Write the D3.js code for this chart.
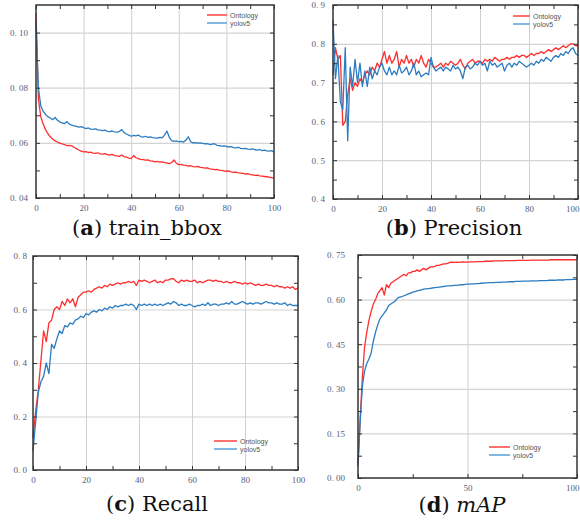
<!DOCTYPE html>
<html>
<head>
<meta charset="utf-8">
<script src="https://cdn.jsdelivr.net/npm/d3@7"></script>
<style>
  body { margin: 0; background: #fff; }
  svg { display: block; }
  .tick text { font-family: "Liberation Serif", serif; font-size: 9px; fill: #55607a; }
  .caption { font-family: "DejaVu Serif", serif; font-size: 21px; fill: #111; }
  .legend text { font-family: "Liberation Sans", sans-serif; font-size: 7px; fill: #555; }
</style>
</head>
<body>
<div id="chart"></div>
<script>
// epochs shared by all four panels
var epochs = d3.range(0, 101);

// (a) train_bbox
var bboxOntology = [.107,.076,.0695,.0668,.0648,.0633,.0622,.0614,.0607,.0603,.0599,.0596,.0594,.0590,.0591,.0589,.0584,.0579,.0574,.0570,
  .0567,.0568,.0565,.0566,.0563,.0562,.0564,.0560,.0559,.0561,.0557,.0556,.0558,.0554,.0553,.0551,.0556,.0550,.0548,.0545,
  .0543,.0554,.0546,.0543,.0540,.0539,.0537,.0538,.0535,.0534,.0531,.0533,.0530,.0531,.0528,.0527,.0525,.0528,.0538,.0526,
  .0521,.0522,.0519,.0518,.0516,.0517,.0514,.0513,.0515,.0511,.0510,.0508,.0509,.0506,.0505,.0503,.0504,.0501,.0500,.0498,
  .0497,.0498,.0495,.0493,.0494,.0491,.0490,.0489,.0487,.0488,.0485,.0484,.0482,.0483,.0480,.0479,.0478,.0477,.0476,.0474,.0472];
var bboxYolo = [.104,.080,.0735,.0715,.0703,.0695,.0690,.0684,.0692,.0682,.0676,.0672,.0670,.0677,.0668,.0664,.0662,.0660,.0657,.0659,
  .0655,.0652,.0654,.0650,.0649,.0651,.0647,.0646,.0644,.0646,.0642,.0641,.0643,.0640,.0639,.0641,.0648,.0637,.0632,.0628,
  .0624,.0627,.0625,.0628,.0623,.0621,.0624,.0620,.0622,.0619,.0618,.0617,.0620,.0618,.0628,.0643,.0620,.0608,.0605,.0607,
  .0604,.0605,.0603,.0610,.0622,.0604,.0600,.0601,.0599,.0600,.0598,.0596,.0597,.0594,.0595,.0597,.0591,.0590,.0588,.0589,
  .0587,.0585,.0586,.0583,.0582,.0584,.0580,.0579,.0580,.0577,.0576,.0578,.0575,.0574,.0576,.0572,.0574,.0571,.0570,.0572,.0566];

// (b) Precision
var precOntology = [.72,.79,.76,.77,.59,.60,.67,.71,.68,.70,.69,.71,.70,.72,.73,.72,.74,.73,.75,.74,
  .76,.78,.75,.77,.75,.76,.78,.74,.76,.75,.77,.75,.76,.74,.76,.75,.77,.75,.74,.76,
  .75,.74,.74,.745,.75,.74,.75,.745,.755,.75,.745,.75,.76,.745,.735,.75,.755,.76,.75,.755,
  .755,.75,.76,.755,.76,.755,.765,.76,.755,.76,.76,.765,.76,.765,.765,.77,.765,.77,.77,.765,
  .77,.775,.77,.775,.775,.78,.775,.78,.785,.78,.785,.79,.785,.79,.795,.79,.795,.80,.80,.795,.795];
var precYolo = [.86,.71,.77,.65,.63,.79,.55,.74,.69,.76,.70,.75,.69,.73,.69,.74,.71,.73,.72,.74,
  .75,.73,.72,.74,.72,.73,.72,.745,.725,.73,.74,.72,.73,.75,.72,.73,.715,.72,.725,.72,
  .765,.74,.73,.735,.74,.73,.74,.735,.73,.745,.735,.74,.73,.71,.74,.745,.735,.74,.75,.745,
  .755,.745,.75,.73,.755,.745,.75,.74,.745,.75,.73,.745,.75,.74,.75,.745,.755,.75,.745,.74,
  .745,.75,.745,.755,.75,.76,.755,.765,.76,.755,.765,.77,.765,.775,.77,.78,.775,.785,.79,.775,.77];

// (c) Recall
var recOntology = [.12,.22,.30,.41,.52,.48,.55,.56,.60,.61,.60,.63,.615,.64,.625,.64,.61,.645,.655,.665,
  .665,.67,.665,.675,.68,.685,.68,.69,.685,.695,.69,.695,.70,.695,.70,.70,.705,.70,.705,.69,
  .71,.705,.71,.705,.70,.705,.71,.70,.705,.70,.71,.71,.715,.715,.705,.70,.71,.705,.71,.705,
  .705,.71,.70,.705,.70,.705,.71,.71,.705,.71,.705,.705,.70,.705,.70,.70,.705,.70,.70,.695,
  .70,.695,.70,.695,.69,.695,.69,.69,.695,.69,.69,.685,.69,.685,.685,.68,.685,.68,.685,.675,.68];
var recYolo = [.07,.18,.29,.33,.35,.40,.36,.47,.455,.49,.52,.51,.54,.535,.55,.545,.56,.565,.575,.57,
  .585,.58,.59,.595,.59,.60,.595,.605,.60,.61,.605,.615,.61,.615,.615,.62,.615,.62,.615,.60,
  .62,.615,.62,.615,.62,.615,.62,.615,.62,.615,.62,.625,.62,.63,.625,.615,.62,.615,.615,.62,
  .615,.61,.615,.615,.62,.615,.625,.615,.62,.62,.615,.62,.62,.625,.62,.63,.62,.62,.625,.63,
  .625,.62,.625,.62,.625,.625,.62,.625,.63,.625,.625,.62,.625,.62,.62,.625,.615,.62,.615,.615,.615];

// (d) mAP
var mapOntology = [.04,.20,.34,.44,.49,.53,.56,.585,.60,.62,.63,.64,.615,.65,.64,.655,.66,.665,.67,.675,
  .68,.685,.68,.69,.69,.695,.695,.70,.695,.70,.705,.70,.705,.71,.71,.712,.715,.715,.718,.72,
  .72,.722,.725,.726,.725,.726,.725,.726,.727,.726,.726,.727,.727,.727,.728,.728,.728,.728,.729,.729,
  .729,.729,.73,.73,.73,.73,.73,.731,.731,.731,.731,.731,.731,.732,.732,.732,.732,.732,.732,.733,
  .733,.733,.733,.733,.733,.733,.733,.733,.734,.734,.734,.734,.734,.734,.734,.734,.734,.734,.734,.734,.734];
var mapYolo = [.05,.19,.31,.36,.385,.40,.42,.46,.49,.515,.535,.545,.555,.565,.58,.585,.59,.595,.605,.608,
  .61,.613,.616,.619,.622,.625,.627,.629,.631,.633,.635,.636,.637,.638,.639,.64,.641,.642,.643,.644,
  .645,.646,.646,.647,.648,.648,.649,.65,.65,.651,.652,.652,.653,.653,.654,.654,.655,.655,.656,.656,
  .657,.657,.657,.658,.658,.658,.659,.659,.659,.66,.66,.66,.661,.661,.661,.662,.662,.662,.662,.663,
  .663,.663,.663,.664,.664,.664,.664,.665,.665,.665,.665,.666,.666,.666,.666,.667,.667,.667,.668,.668,.668];

var seriesNames = ["Ontology", "yolov5"];
var colors = ["#ff2e2e", "#2c7cc0"];
var legendColors = ["#ff7070", "#80b8e2"];

var svg = d3.select("#chart").append("svg")
    .attr("width", 580)
    .attr("height", 521);

function drawPanel(p) {
    var x = d3.scaleLinear().domain(p.xDomain).range([p.left, p.right]);
    var y = d3.scaleLinear().domain(p.yDomain).range([p.bottom, p.top]);
    var g = svg.append("g");
    var h = p.bottom - p.top, w = p.right - p.left;

    // grid
    g.append("g").attr("transform", "translate(0," + p.bottom + ")")
        .call(d3.axisBottom(x).tickValues(p.xGrid).tickSize(-h).tickFormat(""))
        .call(function(s){ s.select(".domain").remove(); s.selectAll("line").attr("stroke", "#cfcfcf"); });
    g.append("g").attr("transform", "translate(" + p.left + ",0)")
        .call(d3.axisLeft(y).tickValues(p.yGrid).tickSize(-w).tickFormat(""))
        .call(function(s){ s.select(".domain").remove(); s.selectAll("line").attr("stroke", "#d4d4d4").attr("stroke-width", 1.2); });

    // lines
    var line = d3.line().x(function(d, i){ return x(epochs[i]); }).y(function(d){ return y(d); });
    p.series.forEach(function(s, i){
        g.append("path").datum(s)
            .attr("fill", "none")
            .attr("stroke", colors[i])
            .attr("stroke-width", 1.3)
            .attr("stroke-linejoin", "round")
            .attr("d", line);
    });

    // inward ticks on all sides (major + minor)
    var xTicks = p.xTicks.concat(p.xMinor), yTicks = p.yTicks.concat(p.yMinor);
    function tickStyle(s){ s.select(".domain").remove(); s.selectAll("line").attr("stroke", "#333"); }
    g.append("g").attr("transform", "translate(0," + p.bottom + ")")
        .call(d3.axisBottom(x).tickValues(xTicks).tickSize(-4).tickFormat("")).call(tickStyle);
    g.append("g").attr("transform", "translate(0," + p.top + ")")
        .call(d3.axisTop(x).tickValues(xTicks).tickSize(-4).tickFormat("")).call(tickStyle);
    g.append("g").attr("transform", "translate(" + p.left + ",0)")
        .call(d3.axisLeft(y).tickValues(yTicks).tickSize(-4).tickFormat("")).call(tickStyle);
    g.append("g").attr("transform", "translate(" + p.right + ",0)")
        .call(d3.axisRight(y).tickValues(yTicks).tickSize(-4).tickFormat("")).call(tickStyle);

    // labels
    var xl = g.append("g").attr("transform", "translate(0," + p.bottom + ")")
        .call(d3.axisBottom(x).tickValues(p.xTicks).tickSize(0).tickPadding(7).tickFormat(d3.format("d")))
        .call(function(s){ s.select(".domain").remove(); });
    if (p.right > 570) {
        // keep the last label inside the window
        xl.selectAll(".tick").filter(function(d){ return d === p.xDomain[1]; })
            .select("text").attr("text-anchor", "end").attr("dx", 580 - p.right - 1);
    }
    g.append("g").attr("transform", "translate(" + p.left + ",0)")
        .call(d3.axisLeft(y).tickValues(p.yTicks).tickSize(0).tickPadding(p.yPad).tickFormat(p.yFormat))
        .call(function(s){ s.select(".domain").remove(); });

    // border
    g.append("rect")
        .attr("x", p.left).attr("y", p.top)
        .attr("width", w).attr("height", h)
        .attr("fill", "none").attr("stroke", "#333").attr("stroke-width", 1.5);

    // legend
    var lg = g.append("g").attr("class", "legend");
    seriesNames.forEach(function(name, i){
        var ly = p.legend[1] + i * 8;
        lg.append("line")
            .attr("x1", p.legend[0]).attr("x2", p.legend[0] + p.legend[2])
            .attr("y1", ly).attr("y2", ly)
            .attr("stroke", legendColors[i]).attr("stroke-width", 2);
        lg.append("text")
            .attr("x", p.legend[0] + p.legend[2] + 3).attr("y", ly + 2.5)
            .text(name);
    });

    // caption
    var cap = svg.append("text").attr("class", "caption")
        .attr("x", p.caption[0]).attr("y", p.caption[1])
        .attr("text-anchor", "middle");
    cap.append("tspan").text("(");
    cap.append("tspan").attr("font-weight", "bold").text(p.letter);
    cap.append("tspan").text(") ");
    cap.append("tspan").attr("font-style", p.italic ? "italic" : "normal").text(p.title);
}

function fmt(digits) {
    return function(d){ return "0. " + d3.format("." + digits + "f")(d).split(".")[1]; };
}

drawPanel({
    left: 36, right: 274, top: 5, bottom: 198,
    xDomain: [0, 100], yDomain: [0.04, 0.11],
    xTicks: [0, 20, 40, 60, 80, 100], xMinor: [10, 30, 50, 70, 90],
    yTicks: [0.04, 0.06, 0.08, 0.10], yMinor: [0.05, 0.07, 0.09],
    xGrid: [20, 40, 60, 80], yGrid: [0.06, 0.08, 0.10],
    yFormat: fmt(2), yPad: 8,
    series: [bboxOntology, bboxYolo],
    legend: [207, 15, 20],
    caption: [147, 235], letter: "a", title: "train_bbox"
});

drawPanel({
    left: 333, right: 578, top: 5, bottom: 199,
    xDomain: [0, 100], yDomain: [0.4, 0.9],
    xTicks: [0, 20, 40, 60, 80, 100], xMinor: [10, 30, 50, 70, 90],
    yTicks: [0.4, 0.5, 0.6, 0.7, 0.8, 0.9], yMinor: [0.45, 0.55, 0.65, 0.75, 0.85],
    xGrid: [20, 40, 60, 80], yGrid: [0.5, 0.6, 0.7, 0.8],
    yFormat: fmt(1), yPad: 8,
    series: [precOntology, precYolo],
    legend: [513, 16, 17],
    caption: [454, 235], letter: "b", title: "Precision"
});

drawPanel({
    left: 33, right: 298, top: 256, bottom: 470,
    xDomain: [0, 100], yDomain: [0, 0.8],
    xTicks: [0, 20, 40, 60, 80, 100], xMinor: [10, 30, 50, 70, 90],
    yTicks: [0, 0.2, 0.4, 0.6, 0.8], yMinor: [0.1, 0.3, 0.5, 0.7],
    xGrid: [20, 40, 60, 80], yGrid: [0.2, 0.4, 0.6],
    yFormat: fmt(1), yPad: 6,
    series: [recOntology, recYolo],
    legend: [214, 441, 23],
    caption: [157, 511], letter: "c", title: "Recall"
});

drawPanel({
    left: 358, right: 577, top: 255, bottom: 478,
    xDomain: [0, 100], yDomain: [0, 0.75],
    xTicks: [0, 50, 100], xMinor: [25, 75],
    yTicks: [0, 0.15, 0.30, 0.45, 0.60, 0.75], yMinor: [0.075, 0.225, 0.375, 0.525, 0.675],
    xGrid: [50], yGrid: [0.15, 0.30, 0.45, 0.60],
    yFormat: fmt(2), yPad: 13,
    series: [mapOntology, mapYolo],
    legend: [489, 447, 21],
    caption: [462, 512], letter: "d", title: "mAP", italic: true
});
</script>
</body>
</html>
